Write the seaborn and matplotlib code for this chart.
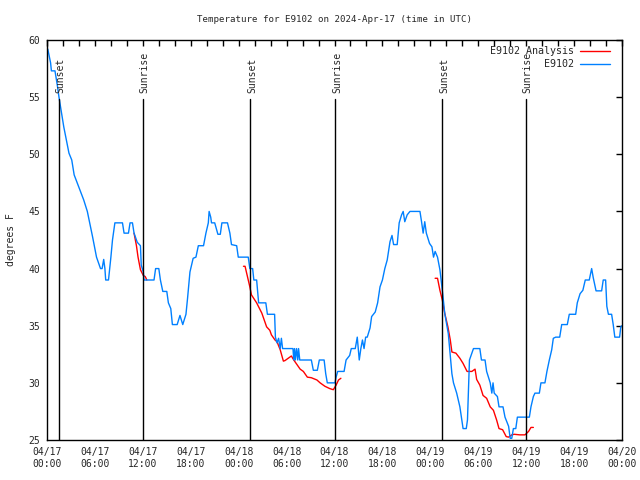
import matplotlib
matplotlib.use("Agg")
import matplotlib.pyplot as plt
from matplotlib.lines import Line2D
import seaborn as sns
import pandas as pd
import numpy as np

# ---- data (hours since 04/17 00:00 UTC, degrees F) ----
blue_t = [0.1, 0.45, 0.55, 1.0, 1.3, 1.5, 2.1, 2.75, 3.1, 3.4, 4.0, 4.6, 5.05, 5.7, 6.2, 6.7, 6.9, 7.1, 7.25,
          7.35, 7.7, 8.0, 8.2, 8.5, 9.45, 9.65, 10.2, 10.4, 10.7, 10.9, 11.3, 11.7, 11.8, 12.06, 12.15, 13.4,
          13.6, 14.0, 14.2, 14.5, 15.0, 15.2, 15.5, 15.7, 16.3, 16.65, 17.0, 17.4, 17.6, 17.9, 18.3, 18.65,
          18.95, 19.6, 19.9, 20.2, 20.3, 20.5, 20.6, 21.0, 21.4, 21.7, 21.9, 22.6, 22.9, 23.1, 23.75, 23.95,
          25.2, 25.4, 25.75, 25.9, 26.25, 26.5, 27.4, 27.6, 28.5, 28.6, 28.8, 29.0, 29.2, 29.35, 29.5, 30.8,
          30.9, 31.0, 31.1, 31.25, 31.4, 31.5, 31.65, 33.1, 33.35, 33.85, 34.1, 34.7, 34.9, 35.1, 36.06, 36.2,
          36.4, 37.2, 37.45, 37.9, 38.1, 38.6, 38.85, 39.1, 39.3, 39.5, 39.7, 39.9, 40.1, 40.45, 40.65, 41.1,
          41.4, 41.7, 42.0, 42.3, 42.6, 42.95, 43.2, 43.4, 43.85, 44.1, 44.4, 44.6, 44.8, 45.1, 45.45, 46.7,
          46.9, 47.1, 47.3, 47.5, 47.9, 48.2, 48.4, 48.6, 48.9, 49.2, 49.55, 49.8, 50.25, 50.5, 50.7, 50.9,
          51.3, 51.7, 52.1, 52.5, 52.65, 52.9, 53.4, 54.2, 54.4, 54.85, 55.05, 55.5, 55.7, 55.85, 56.0, 56.4,
          56.6, 57.1, 57.35, 57.8, 58.0, 58.2, 58.4, 58.7, 58.9, 60.4, 60.6, 60.9, 61.1, 61.65, 61.85, 62.35,
          62.6, 62.9, 63.2, 63.4, 63.7, 64.2, 64.45, 65.15, 65.4, 66.2, 66.4, 66.75, 67.1, 67.4, 67.9, 68.2,
          68.4, 68.75, 69.45, 69.65, 69.95, 70.1, 70.3, 70.7, 70.9, 71.1, 71.7, 71.85, 72.0]
blue_T = [59.2, 58.0, 57.3, 57.3, 56.0, 55.0, 52.4, 50.1, 49.5, 48.2, 47.1, 46.0, 45.0, 42.8, 41.0, 40.0, 40.0,
          40.8, 40.0, 39.0, 39.0, 41.0, 42.5, 44.0, 44.0, 43.1, 43.1, 44.0, 44.0, 43.1, 42.3, 42.0, 40.3, 39.7,
          39.0, 39.0, 40.0, 40.0, 39.0, 38.0, 38.0, 37.0, 36.5, 35.1, 35.1, 35.9, 35.1, 36.0, 37.4, 39.7, 40.9,
          41.0, 42.0, 42.0, 43.1, 44.0, 45.0, 44.5, 44.0, 44.0, 43.0, 43.0, 44.0, 44.0, 43.1, 42.1, 42.0, 41.0,
          41.0, 40.0, 40.0, 39.0, 39.0, 37.0, 37.0, 36.0, 36.0, 34.0, 33.5, 33.9, 33.0, 33.9, 33.0, 33.0, 32.0,
          33.0, 32.0, 33.0, 32.0, 33.0, 32.0, 32.0, 31.1, 31.1, 32.0, 32.0, 30.8, 30.0, 30.0, 30.5, 31.0, 31.0,
          32.0, 32.4, 33.0, 33.0, 34.0, 32.0, 33.0, 33.75, 33.0, 34.0, 34.0, 34.8, 35.8, 36.2, 37.0, 38.4, 39.0,
          40.0, 40.75, 42.35, 42.9, 42.1, 42.1, 44.0, 44.7, 45.0, 44.1, 44.7, 45.0, 45.0, 44.1, 43.1, 44.1,
          43.1, 42.2, 41.9, 41.0, 41.5, 41.0, 39.9, 37.8, 36.1, 34.3, 32.3, 30.8, 30.0, 29.1, 27.9, 26.0, 26.0,
          26.75, 32.0, 33.0, 33.0, 32.0, 32.0, 31.0, 30.0, 29.1, 30.0, 29.1, 28.8, 27.9, 27.9, 27.0, 26.2,
          25.15, 25.15, 26.0, 26.0, 27.0, 27.0, 27.9, 28.8, 29.1, 29.1, 30.0, 30.0, 31.0, 32.0, 32.9, 33.9,
          34.0, 34.0, 35.1, 35.1, 36.0, 36.0, 37.0, 37.8, 38.1, 39.0, 39.0, 40.0, 39.2, 38.05, 38.05, 39.0,
          39.0, 36.7, 36.0, 36.0, 35.1, 34.0, 34.0, 34.9, 35.0]

red_a_t = [10.9, 11.2, 11.4, 11.7, 12.06, 12.3, 12.5]
red_a_T = [43.1, 42.0, 41.0, 39.9, 39.4, 39.3, 39.0]
red_b_t = [24.6, 24.8, 25.1, 25.4, 25.6, 26.25, 26.9, 27.5, 27.9, 28.1, 28.55, 28.8, 29.2, 29.6, 29.8, 30.2,
           30.6, 30.9, 31.3, 31.7, 32.1, 32.6, 33.1, 33.8, 34.2, 34.8, 35.4, 35.85, 36.2, 36.5, 36.8]
red_b_T = [40.2, 40.2, 39.3, 38.4, 37.7, 37.0, 36.1, 34.9, 34.6, 34.2, 33.75, 33.6, 32.9, 31.9, 31.95, 32.15,
           32.35, 32.0, 31.6, 31.2, 31.0, 30.5, 30.45, 30.25, 30.0, 29.7, 29.5, 29.4, 29.8, 30.25, 30.4]
red_c_t = [48.6, 48.9, 49.2, 49.5, 49.8, 50.2, 50.5, 50.7, 51.2, 51.7, 52.1, 52.6, 53.2, 53.6, 53.8, 54.2,
           54.6, 55.05, 55.5, 55.9, 56.3, 56.6, 57.05, 57.5, 57.8, 58.2, 58.5, 59.2, 59.85, 60.3, 60.6, 60.9]
red_c_T = [39.15, 39.15, 38.1, 37.25, 36.1, 34.9, 33.75, 32.7, 32.6, 32.15, 31.7, 31.0, 31.0, 31.2, 30.3, 29.8,
           28.9, 28.65, 27.9, 27.6, 26.75, 26.0, 25.9, 25.3, 25.25, 25.45, 25.5, 25.45, 25.45, 25.75, 26.1, 26.1]

sun_times = [1.45, 12.0, 25.45, 36.05, 49.45, 59.95]
sun_labels = ["Sunset", "Sunrise", "Sunset", "Sunrise", "Sunset", "Sunrise"]

xtick_pos = [0, 6, 12, 18, 24, 30, 36, 42, 48, 54, 60, 66, 72]
xtick_labels = ["04/17\n00:00", "04/17\n06:00", "04/17\n12:00", "04/17\n18:00",
                "04/18\n00:00", "04/18\n06:00", "04/18\n12:00", "04/18\n18:00",
                "04/19\n00:00", "04/19\n06:00", "04/19\n12:00", "04/19\n18:00",
                "04/20\n00:00"]
ytick_pos = [25, 30, 35, 40, 45, 50, 55, 60]

series_names = ["E9102 Analysis", "E9102"]
series_colors = ["#ff0000", "#0080ff"]

# ---- build frames ----
blue_df = pd.DataFrame({"t": blue_t, "T": blue_T})
red_df = pd.concat([
    pd.DataFrame({"t": red_a_t, "T": red_a_T, "seg": 0}),
    pd.DataFrame({"t": red_b_t, "T": red_b_T, "seg": 1}),
    pd.DataFrame({"t": red_c_t, "T": red_c_T, "seg": 2}),
])

sns.set_style("white")
plt.rcParams["font.family"] = ["DejaVu Sans Mono"]
plt.rcParams["font.size"] = 7

fig, ax = plt.subplots(figsize=(6.4, 4.8), dpi=100)
fig.subplots_adjust(left=47/640, right=622/640, top=1-40/480, bottom=1-440/480)

sns.lineplot(data=red_df, x="t", y="T", units="seg", estimator=None, sort=False,
             color=series_colors[0], linewidth=1.0, ax=ax, legend=False)
sns.lineplot(data=blue_df, x="t", y="T", estimator=None, sort=False,
             color=series_colors[1], linewidth=1.0, ax=ax, legend=False)

for st, sl in zip(sun_times, sun_labels):
    ax.plot([st, st], [25, 54.85], color="black", linewidth=1.0)
    ax.text(st + 0.25, 55.4, sl, rotation=90, ha="center", va="bottom", fontsize=7)

ax.set_xlim(0, 72)
ax.set_ylim(25, 60)
ax.set_xticks(xtick_pos)
ax.set_xticklabels(xtick_labels)
ax.set_xticks(np.arange(0, 73, 2), minor=True)
ax.set_yticks(ytick_pos)
ax.tick_params(axis="both", which="both", direction="in", top=True, right=True,
               length=4, width=1, color="black", labelsize=7, pad=5)
for s in ax.spines.values():
    s.set_color("black")
    s.set_linewidth(1)
ax.set_xlabel("")
ax.set_ylabel("degrees F", fontsize=7, labelpad=9)
ax.set_title("Temperature for E9102 on 2024-Apr-17 (time in UTC)", fontsize=6.6, pad=13)

handles = [Line2D([0], [0], color=c, linewidth=1.0) for c in series_colors]
ax.legend(handles, series_names, loc="upper right", bbox_to_anchor=(1 - 6/575, 1.0),
          frameon=False, markerfirst=False, fontsize=7.2,
          handlelength=3.0, borderaxespad=0.2, labelspacing=0.3, handletextpad=0.6)

fig.savefig("out.png", dpi=100)
